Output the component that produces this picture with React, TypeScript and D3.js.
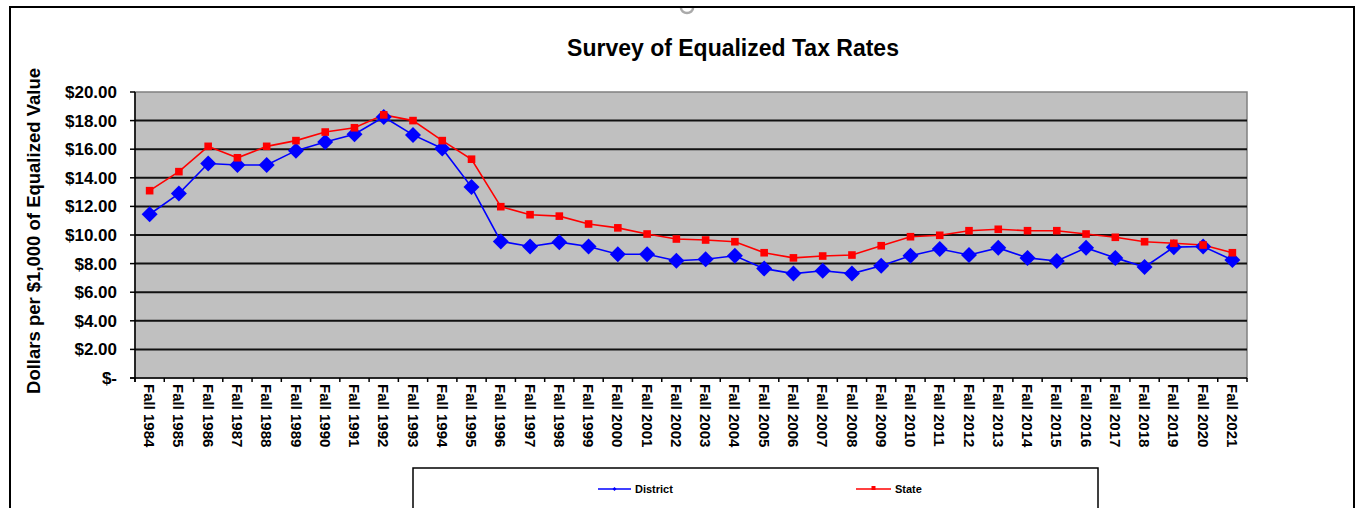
import React from "react";
import * as d3 from "d3";

const years = [
  1984, 1985, 1986, 1987, 1988, 1989, 1990, 1991, 1992, 1993, 1994, 1995, 1996,
  1997, 1998, 1999, 2000, 2001, 2002, 2003, 2004, 2005, 2006, 2007, 2008, 2009,
  2010, 2011, 2012, 2013, 2014, 2015, 2016, 2017, 2018, 2019, 2020, 2021,
];
const categories = years.map((y) => `Fall ${y}`);

const district = [
  11.45, 12.9, 15.0, 14.9, 14.9, 15.9, 16.5, 17.05, 18.25, 17.0, 16.05, 13.35,
  9.55, 9.2, 9.5, 9.2, 8.65, 8.65, 8.2, 8.3, 8.55, 7.65, 7.3, 7.5, 7.3, 7.85,
  8.55, 9.02, 8.6, 9.1, 8.4, 8.18, 9.1, 8.4, 7.76, 9.15, 9.2, 8.25,
];
const state = [
  13.1, 14.43, 16.2, 15.4, 16.2, 16.6, 17.2, 17.5, 18.4, 18.0, 16.6, 15.3,
  11.98, 11.42, 11.32, 10.77, 10.5, 10.07, 9.72, 9.65, 9.53, 8.76, 8.4, 8.53,
  8.6, 9.25, 9.88, 9.98, 10.3, 10.4, 10.3, 10.3, 10.07, 9.84, 9.53, 9.42, 9.3,
  8.76,
];
const yTicks = [0, 2, 4, 6, 8, 10, 12, 14, 16, 18, 20];

const W = 1357;
const H = 508;
const plot = { left: 135, right: 1247, top: 92, bottom: 378 };
const FONT = "'Liberation Sans', Arial, sans-serif";

export default function App() {
  const x = d3
    .scaleBand<string>()
    .domain(categories)
    .range([plot.left, plot.right])
    .paddingInner(0)
    .paddingOuter(0);
  const y = d3.scaleLinear().domain([0, 20]).range([plot.bottom, plot.top]);
  const cx = (i: number) => (x(categories[i]) as number) + x.bandwidth() / 2;

  const line = d3
    .line<number>()
    .x((_, i) => cx(i))
    .y((d) => y(d));

  const fmt = (v: number) => (v === 0 ? "$-" : `$${v.toFixed(2)}`);
  const tickXs = categories.map((c) => x(c) as number).concat([plot.right]);
  const xFont = 15;

  return (
    <svg
      width={W}
      height={H}
      style={{ position: "absolute", left: 0, top: 0, display: "block" }}
      fontFamily={FONT}
    >
      <rect x={0} y={0} width={W} height={H} fill="#fff" />
      {/* outer chart border */}
      <rect x={10} y={7} width={1344} height={H} fill="none" stroke="#000" strokeWidth={2} />
      <path d="M681,8 A6,5 0 0 0 693,8" fill="none" stroke="#aaa" strokeWidth={2.5} />

      {/* title */}
      <text x={733} y={56} textAnchor="middle" fontSize={23} fontWeight="bold" fill="#000">
        Survey of Equalized Tax Rates
      </text>

      {/* plot area */}
      <rect
        x={plot.left}
        y={plot.top}
        width={plot.right - plot.left}
        height={plot.bottom - plot.top}
        fill="#c0c0c0"
        stroke="#808080"
        strokeWidth={1.5}
      />
      {yTicks.slice(1, -1).map((t) => (
        <line key={t} x1={plot.left} x2={plot.right} y1={y(t)} y2={y(t)} stroke="#111" strokeWidth={2} />
      ))}
      {/* axes */}
      <line x1={plot.left} x2={plot.left} y1={plot.top} y2={plot.bottom + 4} stroke="#000" strokeWidth={1.5} />
      <line x1={plot.left - 5} x2={plot.right} y1={plot.bottom} y2={plot.bottom} stroke="#000" strokeWidth={1.5} />
      {yTicks.map((t) => (
        <g key={t}>
          <line x1={plot.left - 5} x2={plot.left} y1={y(t)} y2={y(t)} stroke="#000" strokeWidth={1.5} />
          <text x={117} y={y(t) + 6} textAnchor="end" fontSize={17} fontWeight="bold" fill="#000">
            {fmt(t)}
          </text>
        </g>
      ))}
      {tickXs.map((tx, i) => (
        <line key={i} x1={tx} x2={tx} y1={plot.bottom} y2={plot.bottom + 4} stroke="#000" strokeWidth={1.5} />
      ))}
      {categories.map((c, i) => (
        <text
          key={c}
          transform={`translate(${cx(i) - xFont * 0.36},${plot.bottom + 6}) rotate(90)`}
          fontSize={xFont}
          fontWeight="bold"
          fill="#000"
        >
          {c}
        </text>
      ))}

      {/* y axis label */}
      <text
        transform={`translate(40,231) rotate(-90)`}
        textAnchor="middle"
        fontSize={18.5}
        fontWeight="bold"
        fill="#000"
      >
        Dollars per $1,000 of Equalized Value
      </text>

      {/* series */}
      <path d={line(state) || ""} fill="none" stroke="#ff0000" strokeWidth={1.6} />
      <path d={line(district) || ""} fill="none" stroke="#0000ff" strokeWidth={1.6} />
      {district.map((v, i) => (
        <path
          key={`d${i}`}
          d={`M${cx(i)},${y(v) - 8}L${cx(i) + 8},${y(v)}L${cx(i)},${y(v) + 8}L${cx(i) - 8},${y(v)}Z`}
          fill="#0000ff"
        />
      ))}
      {state.map((v, i) => (
        <rect key={`s${i}`} x={cx(i) - 3.8} y={y(v) - 3.8} width={7.6} height={7.6} fill="#ff0000" />
      ))}

      {/* legend */}
      <rect x={413} y={468} width={685} height={60} fill="#fff" stroke="#000" strokeWidth={1.5} />
      <line x1={598} x2={631} y1={489} y2={489} stroke="#0000ff" strokeWidth={1.6} />
      <path d="M614.5,487L616.5,489L614.5,491L612.5,489Z" fill="#0000ff" />
      <text x={635} y={493} fontSize={11} fontWeight="bold" fill="#000">District</text>
      <line x1={856} x2={891} y1={489} y2={489} stroke="#ff0000" strokeWidth={1.6} />
      <rect x={871.5} y={486} width={4} height={4} fill="#ff0000" />
      <text x={895} y={493} fontSize={11} fontWeight="bold" fill="#000">State</text>
    </svg>
  );
}
